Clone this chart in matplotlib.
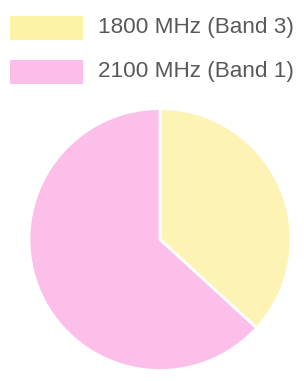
import matplotlib
matplotlib.use("Agg")
import matplotlib.pyplot as plt
from matplotlib.patches import Rectangle

labels = ["1800 MHz (Band 3)", "2100 MHz (Band 1)"]
shares = [36.8, 63.2]
colors = ["#fdf3b4", "#fbbfe9"]
legend_colors = ["#fdf3a6", "#fbbde9"]

W, H = 304, 381
fig = plt.figure(figsize=(W / 100, H / 100), dpi=100)
fig.patch.set_facecolor("white")

# pie axes: center (160, 239.5) px, radius 131 px
cx, cy, r = 160, 239.5, 131
ax = fig.add_axes([(cx - r) / W, (H - cy - r) / H, 2 * r / W, 2 * r / H])
ax.pie(shares, colors=colors, startangle=90, counterclock=False,
       wedgeprops=dict(edgecolor="white", linewidth=2))
ax.set_xlim(-1.0, 1.0)
ax.set_ylim(-1.0, 1.0)
ax.set_aspect("equal")
ax.axis("off")

# legend drawn manually
rows_y = [27.5, 71.5]
for lab, col, yc in zip(labels, legend_colors, rows_y):
    fig.patches.append(Rectangle((10 / W, (H - yc - 12) / H), 73 / W, 24 / H,
                                 transform=fig.transFigure, facecolor=col,
                                 edgecolor="none"))
    fig.text(98 / W, (H - yc) / H, lab, fontsize=16.2, color="#595959",
             family="Liberation Sans", va="center", ha="left")

fig.savefig("out.png", dpi=100, facecolor="white")
